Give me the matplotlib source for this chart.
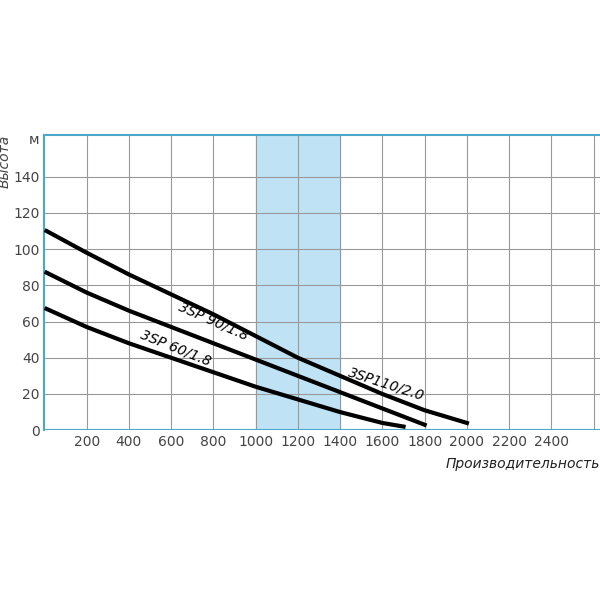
import matplotlib.pyplot as plt

x110 = [10, 200, 400, 600, 800, 1000, 1200, 1400, 1600, 1800, 2000]
y110 = [110, 98, 86, 75, 64, 52, 40, 30, 20, 11, 4]
x90 = [10, 200, 400, 600, 800, 1000, 1200, 1400, 1600, 1800]
y90 = [87, 76, 66, 57, 48, 39, 30, 21, 12, 3]
x60 = [10, 200, 400, 600, 800, 1000, 1200, 1400, 1600, 1700]
y60 = [67, 57, 48, 40, 32, 24, 17, 10, 4, 2]

xticks = list(range(200, 2600, 200))
yticks = [0, 20, 40, 60, 80, 100, 120, 140]

fig = plt.figure(figsize=(6, 6), dpi=100)
ax = fig.add_axes([0.074, 0.283, 0.926, 0.492])
ax.set_xlim(0, 2630)
ax.set_ylim(0, 163)
ax.axvspan(1000, 1400, color='#bfe3f5', zorder=0)
for xv in range(200, 2700, 200):
    ax.axvline(xv, color='#999999', lw=0.8, zorder=1)
for yv in range(20, 160, 20):
    ax.axhline(yv, color='#999999', lw=0.8, zorder=1)

ax.plot(x110, y110, color='black', lw=3, zorder=3)
ax.plot(x90, y90, color='black', lw=3, zorder=3)
ax.plot(x60, y60, color='black', lw=3, zorder=3)

ax.text(1620, 15, '3SP110/2.0', rotation=-18, fontsize=10, style='italic', ha='center', va='bottom')
ax.text(800, 48, '3SP 90/1.8', rotation=-24, fontsize=10, style='italic', ha='center', va='bottom')
ax.text(620, 34, '3SP 60/1.8', rotation=-22, fontsize=10, style='italic', ha='center', va='bottom')

for s in ['right', 'bottom']:
    ax.spines[s].set_visible(False)
for s in ['left', 'top']:
    ax.spines[s].set_color('#4aa8c8')
    ax.spines[s].set_linewidth(1.5)
ax.axhline(0, color='#4aa8c8', lw=1.5, zorder=4)

ax.set_xticks(xticks)
ax.set_yticks(yticks)
ax.tick_params(length=0, labelsize=10, colors='#444444')
ax.text(-25, 160, 'м', ha='right', va='center', fontsize=10, color='#444444')
ax.text(-0.072, 1.0, 'Высота', rotation=90, transform=ax.transAxes, ha='center', va='top',
        fontsize=10, style='italic', color='#444444')
ax.text(1.0, -0.09, 'Производительность', transform=ax.transAxes, ha='right', va='top',
        fontsize=10, style='italic', color='#222222')

fig.savefig('out.png')
